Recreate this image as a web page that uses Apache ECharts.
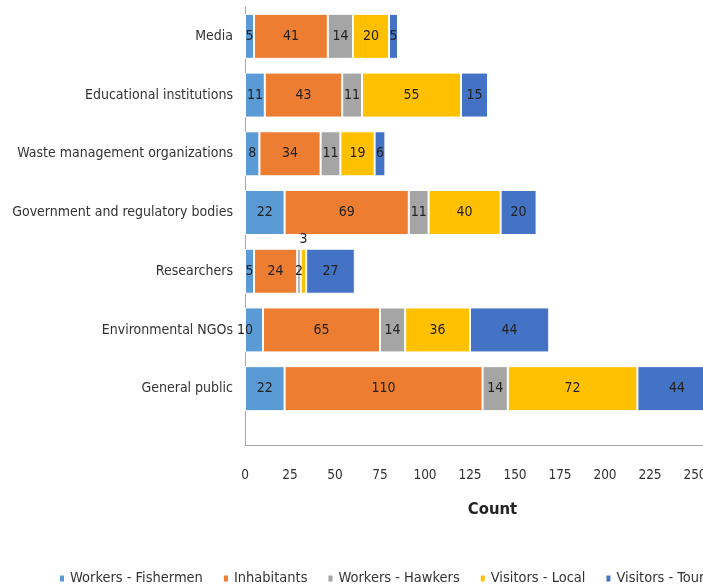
<!DOCTYPE html>
<html><head><meta charset="utf-8">
<script src="https://cdn.jsdelivr.net/npm/echarts@6/dist/echarts.min.js"></script>
<style>html,body{margin:0;padding:0;overflow:hidden;background:#fff}#c{width:790px;height:587px}</style>
</head><body><div id="c"></div>
<script>
// Data (categories listed top to bottom)
const categories = ['Media', 'Educational institutions', 'Waste management organizations', 'Government and regulatory bodies', 'Researchers', 'Environmental NGOs', 'General public'];
const seriesNames = ['Workers - Fishermen', 'Inhabitants', 'Workers - Hawkers', 'Visitors - Local', 'Visitors - Tourists'];
const fishermen        = [5, 11, 8, 22, 5, 10, 22];
const inhabitants      = [41, 43, 34, 69, 24, 65, 110];
const hawkers          = [14, 11, 11, 11, 2, 14, 14];
const visitorsLocal    = [20, 55, 19, 40, 3, 36, 72];
const visitorsTourists = [5, 15, 6, 20, 27, 44, 44];
const xMin = 0, xMax = 275, xStep = 25;
const axisName = 'Count';

const FONT = "'Liberation Sans Narrow', 'Arial Narrow', 'DejaVu Sans Condensed', sans-serif";
const colors = ['#5B9BD5', '#ED7D31', '#A5A5A5', '#FFC000', '#4472C4'];
const values = [fishermen, inhabitants, hawkers, visitorsLocal, visitorsTourists];

const series = seriesNames.map((name, si) => ({
  name: name,
  type: 'bar',
  stack: 'total',
  xAxisIndex: 0,
  yAxisIndex: 0,
  barWidth: 45,
  itemStyle: { color: colors[si], borderColor: '#fff', borderWidth: 1 },
  label: { show: true, position: 'inside', fontFamily: FONT, fontSize: 14, color: '#222' },
  data: values[si].map((v, ci) => {
    if (si === 3 && categories[ci] === 'Researchers') {
      return { value: v, label: { position: 'top', distance: 2 } };
    }
    if (si === 0 && categories[ci] === 'Environmental NGOs') {
      return { value: v, label: { offset: [-9, 0] } };
    }
    return v;
  })
}));

const chart = echarts.init(document.getElementById('c'));
chart.setOption({
  animation: false,
  textStyle: { fontFamily: FONT },
  color: colors,
  legend: {
    left: 53, top: 566,
    itemWidth: 6, itemHeight: 8, itemGap: 19,
    icon: 'rect',
    textStyle: { fontFamily: FONT, fontSize: 14.5, color: '#333' },
    data: seriesNames
  },
  grid: [
    { left: 245, top: 7, width: 495, height: 411, containLabel: false, outerBoundsMode: 'none' },
    { left: 245, top: 7, width: 495, height: 438, containLabel: false, outerBoundsMode: 'none' }
  ],
  xAxis: [
    { gridIndex: 0, type: 'value', min: xMin, max: xMax, interval: xStep, show: false },
    {
      gridIndex: 1, type: 'value', min: xMin, max: xMax, interval: xStep,
      name: axisName, nameLocation: 'middle', nameGap: 56,
      nameTextStyle: { fontFamily: FONT, fontSize: 16.5, fontWeight: 'bold', color: '#222' },
      axisLine: { show: true, onZero: false, lineStyle: { color: '#a6a6a6', width: 1 } },
      axisTick: { show: false },
      splitLine: { show: false },
      axisLabel: { margin: 23, fontFamily: FONT, fontSize: 13.5, color: '#333' }
    }
  ],
  yAxis: [
    {
      gridIndex: 0, type: 'category', inverse: true, data: categories,
      axisLine: { show: false }, axisTick: { show: false },
      axisLabel: { margin: 12, fontFamily: FONT, fontSize: 14, color: '#333' }
    },
    {
      gridIndex: 1, type: 'value', min: 0, max: 1,
      axisLine: { show: true, onZero: false, lineStyle: { color: '#a6a6a6', width: 1 } },
      axisTick: { show: false }, axisLabel: { show: false }, splitLine: { show: false }
    }
  ],
  series: series
});
</script></body></html>
